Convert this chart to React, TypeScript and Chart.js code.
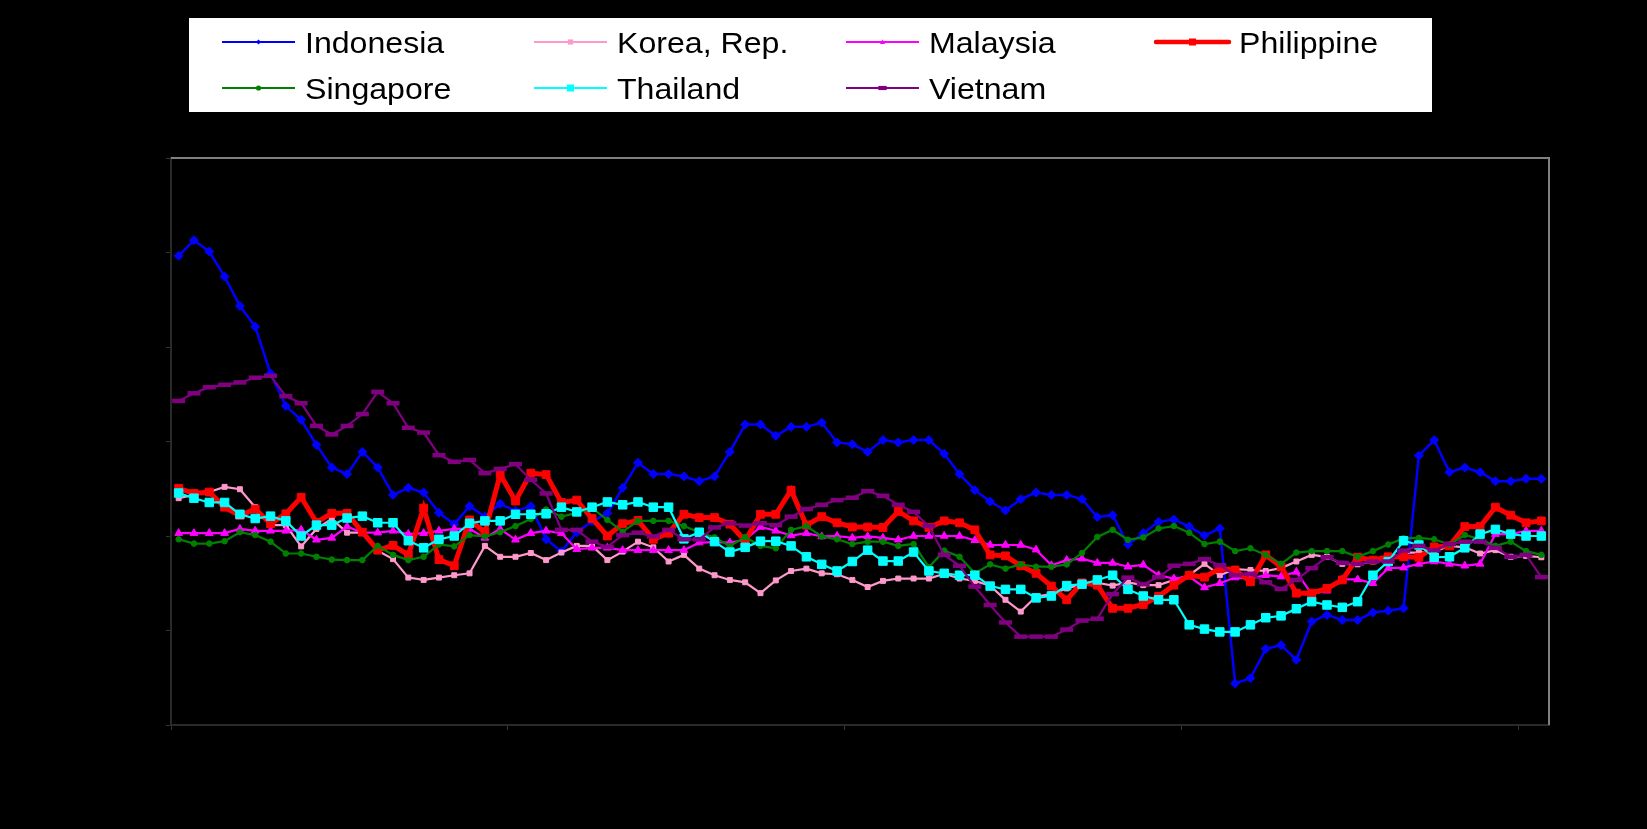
import React, { useEffect, useRef } from 'react';
import { Chart, registerables } from 'chart.js';

Chart.register(...registerables);

const W = 1647;
const H = 829;

// 90 periods; axis labels are not legible in the reference
const periods: string[] = Array.from({ length: 90 }, (_, i) => `P${i + 1}`);

const indonesia = [139.3, 142.6, 140.2, 134.9, 128.7, 124.3, 114.4, 107.5, 104.6, 99.3,
  94.5, 93.1, 97.8, 94.5, 88.7, 90.2, 89.2, 84.9, 82.5, 86.3,
  84.1, 86.8, 85.3, 86.3, 79.3, 76.7, 80.8, 83.1, 84.8, 90.2,
  95.5, 93.1, 93.1, 92.6, 91.6, 92.6, 97.8, 103.6, 103.6, 101.2,
  103.1, 103.1, 104.0, 99.8, 99.4, 97.8, 100.3, 99.8, 100.3, 100.3,
  97.4, 93.1, 89.7, 87.3, 85.4, 87.8, 89.2, 88.7, 88.7, 87.8,
  84.0, 84.4, 78.2, 80.6, 83.0, 83.5, 82.0, 80.1, 81.6, 48.8,
  49.9, 56.1, 56.9, 53.8, 61.9, 63.3, 62.2, 62.2, 63.8, 64.2,
  64.7, 97.0, 100.3, 93.5, 94.5, 93.5, 91.6, 91.6, 92.1, 92.1];

const korea = [88.0, 88.7, 89.3, 90.4, 89.9, 86.1, 82.3, 82.3, 77.8, 81.5,
  83.6, 80.7, 80.7, 76.9, 75.1, 71.2, 70.7, 71.2, 71.7, 72.1,
  77.9, 75.6, 75.6, 76.4, 74.9, 76.5, 77.9, 77.9, 74.9, 76.7,
  78.8, 77.6, 74.6, 76.0, 73.1, 71.7, 70.7, 70.2, 67.9, 70.6,
  72.6, 73.1, 72.1, 71.9, 70.7, 69.2, 70.5, 71.0, 71.0, 71.0,
  72.0, 71.0, 70.5, 69.5, 66.5, 64.0, 67.2, 67.7, 68.9, 69.8,
  70.1, 69.5, 70.2, 69.6, 69.6, 70.7, 71.7, 74.1, 71.7, 73.0,
  72.8, 72.6, 73.2, 74.6, 76.0, 75.6, 74.1, 74.0, 74.6, 75.1,
  76.5, 76.5, 76.7, 77.9, 77.6, 76.3, 77.0, 75.6, 75.8, 75.5];

const malaysia = [80.6, 80.6, 80.6, 80.6, 81.5, 81.1, 81.1, 81.1, 81.3, 79.2,
  79.6, 82.0, 80.7, 80.7, 81.1, 80.4, 80.6, 81.1, 81.5, 81.5,
  79.6, 81.5, 79.2, 80.6, 81.1, 80.6, 77.2, 77.5, 77.5, 77.0,
  77.0, 77.0, 77.0, 77.0, 78.6, 78.7, 78.6, 79.2, 81.9, 81.1,
  80.1, 80.6, 79.9, 80.0, 79.6, 79.9, 79.6, 79.2, 80.0, 80.0,
  80.0, 80.0, 79.1, 78.1, 78.1, 78.1, 77.1, 73.8, 74.9, 75.2,
  74.3, 74.3, 73.5, 73.9, 71.7, 71.0, 71.4, 69.1, 70.0, 71.2,
  71.0, 71.7, 71.4, 72.4, 67.7, 68.4, 70.8, 70.8, 70.0, 73.2,
  73.3, 74.1, 74.6, 74.1, 73.7, 74.1, 80.4, 80.4, 81.1, 81.1];

const philippine = [90.1, 89.0, 89.3, 86.1, 84.3, 85.7, 82.6, 84.7, 88.2, 82.9,
  84.8, 84.8, 80.8, 77.0, 78.0, 76.0, 85.9, 75.0, 73.7, 83.4,
  80.8, 93.0, 87.4, 93.3, 93.0, 87.1, 87.6, 83.7, 80.0, 82.6,
  83.3, 79.3, 80.6, 84.6, 83.9, 83.9, 82.5, 79.0, 84.6, 84.6,
  89.7, 82.3, 84.1, 82.8, 81.9, 81.9, 81.8, 85.2, 83.2, 81.8,
  83.2, 82.8, 81.3, 76.0, 75.8, 73.7, 72.1, 69.4, 66.5, 70.1,
  69.6, 64.7, 64.7, 65.5, 67.2, 69.6, 71.7, 71.3, 73.1, 72.8,
  70.3, 76.0, 73.5, 67.9, 67.9, 68.9, 70.7, 75.5, 74.9, 75.6,
  75.6, 75.5, 77.7, 77.9, 82.0, 82.0, 86.1, 84.4, 82.8, 83.2];

const singapore = [79.3, 78.4, 78.4, 78.9, 80.8, 80.2, 78.8, 76.3, 76.3, 75.6,
  75.0, 74.9, 74.9, 77.9, 76.0, 74.9, 75.6, 78.2, 77.8, 80.2,
  79.9, 80.8, 82.1, 83.6, 85.6, 84.1, 84.9, 85.9, 83.4, 80.9,
  83.2, 83.2, 83.2, 82.1, 80.8, 79.7, 77.9, 79.8, 77.9, 77.4,
  81.3, 82.1, 79.9, 79.3, 78.3, 78.8, 78.8, 77.9, 78.3, 73.4,
  76.9, 75.6, 72.1, 74.0, 73.1, 74.0, 73.5, 73.5, 74.0, 76.4,
  79.8, 81.3, 79.2, 79.7, 81.6, 82.1, 80.7, 78.3, 78.8, 76.8,
  77.4, 76.0, 74.1, 76.5, 76.8, 76.8, 76.8, 75.6, 76.8, 78.2,
  79.5, 79.6, 79.3, 78.2, 80.2, 79.3, 77.9, 78.8, 76.8, 76.0];

const thailand = [89.1, 88.0, 87.1, 87.1, 84.6, 83.7, 84.2, 83.2, 80.0, 82.3,
  82.3, 83.8, 84.2, 82.8, 82.8, 79.0, 77.5, 79.3, 80.0, 82.7,
  83.2, 83.2, 84.6, 84.6, 84.7, 86.1, 85.1, 86.1, 87.2, 86.6,
  87.2, 86.1, 86.1, 79.4, 80.8, 78.8, 76.6, 77.6, 78.9, 78.9,
  77.9, 75.6, 74.0, 72.6, 74.6, 77.0, 74.7, 74.7, 76.6, 72.6,
  72.1, 71.7, 71.7, 69.4, 68.7, 68.7, 66.9, 67.3, 69.5, 69.8,
  70.7, 71.7, 68.7, 67.3, 66.5, 66.5, 61.2, 60.3, 59.7, 59.7,
  61.2, 62.7, 63.1, 64.6, 66.1, 65.4, 64.9, 66.1, 71.7, 74.6,
  79.0, 78.1, 75.5, 75.6, 77.5, 80.4, 81.4, 80.4, 80.0, 80.0];

const vietnam = [108.6, 110.2, 111.5, 112.0, 112.5, 113.5, 113.9, 109.6, 108.1, 103.3,
  101.5, 103.3, 105.8, 110.5, 108.1, 102.9, 101.9, 97.1, 95.7, 96.1,
  93.3, 94.2, 95.2, 91.9, 89.0, 81.3, 81.3, 78.8, 77.7, 80.2,
  80.7, 79.9, 81.3, 79.3, 79.3, 81.8, 82.7, 82.2, 82.7, 82.3,
  84.1, 85.7, 86.6, 87.6, 88.1, 89.5, 88.5, 86.6, 85.1, 82.1,
  76.0, 73.7, 69.3, 65.4, 61.7, 58.7, 58.7, 58.7, 60.2, 62.1,
  62.5, 67.7, 71.2, 69.8, 71.3, 73.7, 74.1, 75.1, 73.8, 71.7,
  72.0, 70.2, 68.8, 70.7, 73.2, 75.5, 74.3, 74.1, 74.6, 74.6,
  76.9, 77.9, 77.0, 78.3, 78.8, 78.8, 77.5, 75.6, 76.0, 71.3];

const Y_MIN = 40;
const Y_MAX = 160;
const Y_STEP = 20;
const X_TICK_EVERY = 22;

type Def = {
  label: string; data: number[]; color: string; width: number;
  style: string; radius: number; pbw: number;
};

const defs: Def[] = [
  { label: 'Indonesia', data: indonesia, color: '#0000FF', width: 2.5, style: 'rectRot', radius: 4.5, pbw: 1 },
  { label: 'Korea, Rep.', data: korea, color: '#FF99CC', width: 2.2, style: 'rect', radius: 3.5, pbw: 1 },
  { label: 'Malaysia', data: malaysia, color: '#FF00FF', width: 2.2, style: 'triangle', radius: 4.5, pbw: 1 },
  { label: 'Philippine', data: philippine, color: '#FF0000', width: 5, style: 'rect', radius: 5.5, pbw: 1 },
  { label: 'Singapore', data: singapore, color: '#008000', width: 2.2, style: 'circle', radius: 2.8, pbw: 1 },
  { label: 'Thailand', data: thailand, color: '#00FFFF', width: 2.2, style: 'rect', radius: 6, pbw: 1 },
  { label: 'Vietnam', data: vietnam, color: '#800080', width: 2.2, style: 'line', radius: 6.5, pbw: 4.5 },
];

function drawMarker(ctx: CanvasRenderingContext2D, style: string, x: number, y: number, r: number, color: string) {
  ctx.save();
  ctx.fillStyle = color;
  ctx.strokeStyle = color;
  ctx.beginPath();
  if (style === 'rectRot') {
    ctx.moveTo(x, y - r); ctx.lineTo(x + r, y); ctx.lineTo(x, y + r); ctx.lineTo(x - r, y); ctx.closePath(); ctx.fill();
  } else if (style === 'rect') {
    ctx.rect(x - r, y - r, 2 * r, 2 * r); ctx.fill();
  } else if (style === 'triangle') {
    ctx.moveTo(x, y - r); ctx.lineTo(x + r, y + r * 0.8); ctx.lineTo(x - r, y + r * 0.8); ctx.closePath(); ctx.fill();
  } else if (style === 'circle') {
    ctx.arc(x, y, r, 0, Math.PI * 2); ctx.fill();
  } else if (style === 'line') {
    ctx.rect(x - r * 1.6, y - r * 0.8, r * 3.2, r * 1.6); ctx.fill();
  }
  ctx.restore();
}

const legendPlugin = {
  id: 'gridLegend',
  afterDraw(chart: any) {
    const ctx: CanvasRenderingContext2D = chart.ctx;
    ctx.save();
    ctx.fillStyle = '#FFFFFF';
    ctx.fillRect(189, 18, 1243, 94);
    const colX = [222, 534, 846, 1156];
    const rowY = [42, 88];
    const lineLen = 73;
    defs.forEach((d, i) => {
      const col = i % 4;
      const row = Math.floor(i / 4);
      const x0 = colX[col];
      const y = rowY[row];
      ctx.strokeStyle = d.color;
      ctx.lineWidth = d.label === 'Philippine' ? 4.5 : 2.2;
      ctx.lineCap = d.label === 'Philippine' ? 'round' : 'butt';
      ctx.beginPath();
      ctx.moveTo(x0, y);
      ctx.lineTo(x0 + lineLen, y);
      ctx.stroke();
      const mr = d.style === 'rect' && d.label !== 'Korea, Rep.' ? 3.5 : 2.6;
      drawMarker(ctx, d.style, x0 + lineLen / 2, y, mr, d.color);
      ctx.fillStyle = '#000000';
      ctx.font = '30px "Liberation Sans", Arial, sans-serif';
      ctx.textBaseline = 'alphabetic';
      ctx.textAlign = 'left';
      ctx.save();
      ctx.translate(x0 + lineLen + 10, y + 11);
      ctx.scale(1.07, 1);
      ctx.fillText(d.label, 0, 0);
      ctx.restore();
    });
    ctx.restore();
  },
};

const borderPlugin = {
  id: 'plotBorder',
  beforeDatasetsDraw(chart: any) {
    const { ctx, chartArea } = chart;
    ctx.save();
    ctx.strokeStyle = '#808080';
    ctx.lineWidth = 2;
    ctx.beginPath();
    ctx.moveTo(chartArea.left, chartArea.top);
    ctx.lineTo(chartArea.right, chartArea.top);
    ctx.lineTo(chartArea.right, chartArea.bottom);
    ctx.stroke();
    ctx.restore();
  },
};

export default function App() {
  const ref = useRef<HTMLCanvasElement | null>(null);

  useEffect(() => {
    if (!ref.current) return;
    const n = defs.length;
    const chart = new Chart(ref.current, {
      type: 'line',
      data: {
        labels: periods,
        datasets: defs.map((d, i) => ({
          label: d.label,
          data: d.data,
          borderColor: d.color,
          backgroundColor: d.color,
          borderWidth: d.width,
          pointStyle: d.style as any,
          pointRadius: d.radius,
          pointBackgroundColor: d.color,
          pointBorderColor: d.color,
          pointBorderWidth: d.pbw,
          tension: 0,
          fill: false,
          order: n - 1 - i,
        })),
      },
      options: {
        responsive: false,
        animation: false,
        devicePixelRatio: 1,
        layout: { padding: { left: 166, top: 158, right: 98, bottom: 99 }, autoPadding: false },
        plugins: {
          legend: { display: false },
          tooltip: { enabled: false },
        },
        scales: {
          x: {
            type: 'category',
            offset: true,
            ticks: { display: false },
            grid: {
              offset: true,
              drawOnChartArea: false,
              drawTicks: true,
              tickLength: 5,
              color: (c: any) => (c.index % X_TICK_EVERY === 0 ? '#333333' : 'rgba(0,0,0,0)'),
            },
            border: { display: true, color: '#2a2a2a', width: 2 },
          },
          y: {
            min: Y_MIN,
            max: Y_MAX,
            ticks: { display: false, stepSize: Y_STEP },
            grid: { drawOnChartArea: false, drawTicks: true, tickLength: 5, color: '#333333' },
            border: { display: true, color: '#2a2a2a', width: 2 },
          },
        },
      },
      plugins: [borderPlugin, legendPlugin],
    });
    return () => chart.destroy();
  }, []);

  return (
    <div style={{ position: 'fixed', left: 0, top: 0, width: W, height: H, background: '#000000', overflow: 'hidden' }}>
      <canvas ref={ref} width={W} height={H} style={{ display: 'block' }} />
    </div>
  );
}
